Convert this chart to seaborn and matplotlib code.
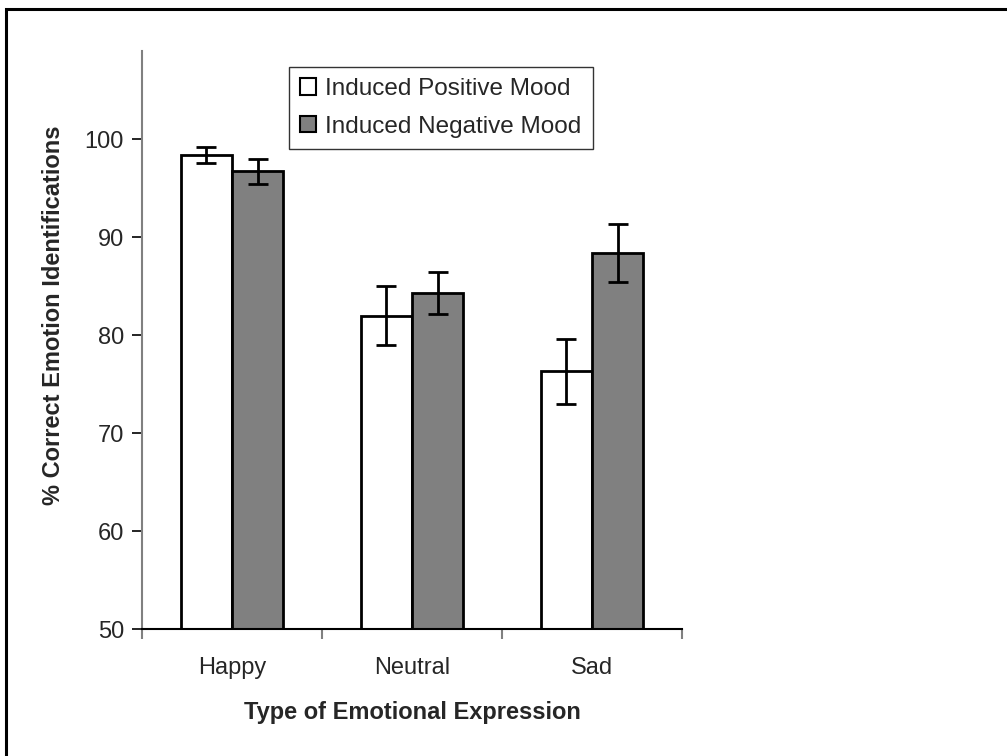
import matplotlib
matplotlib.use("Agg")
import matplotlib.pyplot as plt
from matplotlib.patches import Rectangle
from matplotlib.ticker import FixedLocator
import seaborn as sns
import pandas as pd

categories = ["Happy", "Neutral", "Sad"]
moods = ["Induced Positive Mood", "Induced Negative Mood"]
positive = [98.4, 82.0, 76.3]
negative = [96.7, 84.3, 88.4]
positive_err = [0.8, 3.05, 3.35]
negative_err = [1.25, 2.15, 2.95]
y_ticks = [50, 60, 70, 80, 90, 100]

sns.set_style("white")
plt.rcParams['font.family'] = ['Liberation Sans', 'DejaVu Sans']

df = pd.DataFrame({
    "Expression": categories * 2,
    "Score": positive + negative,
    "Mood": [moods[0]] * 3 + [moods[1]] * 3,
})

fig = plt.figure(figsize=(10.07, 7.56), dpi=100)
ax = fig.add_axes([142 / 1007, 1 - 629 / 756, 540 / 1007, 578 / 756])

sns.barplot(data=df, x="Expression", y="Score", hue="Mood", hue_order=moods,
            order=categories,
            palette={moods[0]: "white", moods[1]: "#808080"}, saturation=1,
            edgecolor="black", linewidth=2, width=0.567, errorbar=None, ax=ax)

errs = [positive_err, negative_err]
for cont, err in zip(ax.containers, errs):
    xs = [b.get_x() + b.get_width() / 2 for b in cont]
    ys = [b.get_height() for b in cont]
    ax.errorbar(xs, ys, yerr=err, fmt="none", ecolor="black", elinewidth=2,
                capsize=7.5, capthick=2, zorder=5)

ax.set_ylim(50, 109)
ax.set_xlim(-0.5, 2.5)
ax.set_yticks(y_ticks)
ax.set_xticks(range(len(categories)))
ax.set_xticklabels(categories)
ax.xaxis.set_minor_locator(FixedLocator([-0.5, 0.5, 1.5, 2.5]))

ax.tick_params(axis="x", which="major", length=0, labelsize=17, pad=20)
ax.tick_params(axis="x", which="minor", length=7, width=1.5, color="#808080",
               direction="out", bottom=True)
ax.tick_params(axis="y", length=7, width=1.2, color="black", direction="out",
               labelsize=17, pad=6, left=True)

for s in ["top", "right"]:
    ax.spines[s].set_visible(False)
ax.spines["left"].set_color("#808080")
ax.spines["left"].set_linewidth(1.5)
ax.spines["bottom"].set_color("black")
ax.spines["bottom"].set_linewidth(1.5)

ax.set_xlabel("Type of Emotional Expression", fontsize=17, fontweight="bold",
              labelpad=16)
ax.set_ylabel("% Correct Emotion Identifications", fontsize=17,
              fontweight="bold", labelpad=12)
ax.yaxis.set_label_coords(-0.143, 0.543)

leg = ax.legend(loc="upper left", bbox_to_anchor=(0.272, 0.972),
                borderaxespad=0, fontsize=17.5, frameon=True, fancybox=False,
                handlelength=0.65, handleheight=0.65, handletextpad=0.4,
                labelspacing=0.65, borderpad=0.45)
leg.get_frame().set_edgecolor("black")
leg.get_frame().set_linewidth(1.0)
for h in leg.legend_handles:
    h.set_linewidth(1.5)
    h.set_edgecolor("black")

fig.patches.append(Rectangle((6 / 1007, -0.1), 1.2, 1 - 9 / 756 + 0.1,
                             transform=fig.transFigure, fill=False,
                             edgecolor="black", linewidth=2.2, zorder=10))

fig.savefig("out.png", dpi=100, facecolor="white")
